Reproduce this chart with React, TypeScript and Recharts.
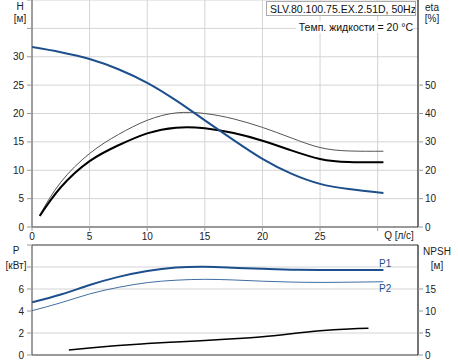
import React from "react";
import { LineChart, Line, XAxis, YAxis, CartesianGrid, ReferenceLine } from "recharts";

// axis ticks
const qTicks = [0, 5, 10, 15, 20, 25, 30];
const hTicks = [0, 5, 10, 15, 20, 25, 30, 35, 40];
const etaTicks = [0, 10, 20, 30, 40, 50];
const pTicks = [0, 2, 4, 6, 8, 10];
const npshTicks = [0, 5, 10, 15];

// H curve [м]
const qHead = [0, 2.5, 5, 7.5, 10, 12.5, 15, 17.5, 20, 22.5, 25, 27.5, 30.5];
const head = [31.7, 30.8, 29.6, 27.8, 25.4, 22.3, 18.8, 15.3, 12.0, 9.4, 7.6, 6.7, 6.0];

// efficiency curves [%]
const qEta = [0.67, 2.5, 5, 7.5, 10, 12.5, 15, 17.5, 20, 22.5, 25, 27.5, 30.5];
const etaTotal = [3.9, 14, 23.2, 28.8, 33, 35, 34.8, 33.1, 30.4, 27.0, 24.0, 22.9, 22.8];
const etaHydr = [4.2, 15.8, 25.9, 32.6, 37.6, 40.2, 40.0, 38.1, 35.1, 31.4, 28.0, 26.8, 26.7];

// power [кВт]
const qPower = [0, 2.5, 5, 7.5, 10, 12.5, 15, 17.5, 20, 22.5, 25, 27.5, 30.5];
const p1 = [4.79, 5.5, 6.36, 7.1, 7.64, 7.95, 8.03, 7.93, 7.83, 7.76, 7.73, 7.73, 7.73];
const p2 = [4.03, 4.75, 5.55, 6.15, 6.58, 6.8, 6.88, 6.82, 6.71, 6.63, 6.6, 6.62, 6.66];

// NPSH [м]
const qNpsh = [3.2, 5, 7.5, 10, 12.5, 15, 17.5, 20, 22.5, 25, 27.5, 29.2];
const npsh = [1.14, 1.6, 2.15, 2.6, 2.95, 3.3, 3.7, 4.17, 4.85, 5.5, 5.9, 6.06];

const pts = (q: number[], v: number[]) => q.map((x, i) => ({ q: x, v: v[i] }));

const BLUE = "#1d4f8c";
const GRID = "#d4d4d4";
const FONT = "'Liberation Sans', Arial, sans-serif";
const tick = { fontSize: 10, fill: "#222", fontFamily: FONT };

function Txt({ x, y, children, color = "#222", anchor = "center" }: any) {
  const tx = anchor === "center" ? "-50%" : anchor === "right" ? "-100%" : "0";
  return (
    <div
      style={{
        position: "absolute",
        left: x,
        top: y,
        transform: `translate(${tx}, -50%)`,
        fontSize: 10,
        color,
        whiteSpace: "nowrap",
        lineHeight: 1,
      }}
    >
      {children}
    </div>
  );
}

export default function App() {
  return (
    <div
      style={{
        position: "absolute",
        left: 0,
        top: 0,
        width: 458,
        height: 363,
        background: "#fff",
        fontFamily: FONT,
        overflow: "hidden",
      }}
    >
      <div style={{ position: "absolute", left: 0, top: 0 }}>
        <LineChart width={458} height={242} margin={{ top: 0, right: 0, bottom: 0, left: 0 }}>
          <CartesianGrid stroke={GRID} xAxisId="q" yAxisId="h" />
          <XAxis
            xAxisId="q"
            type="number"
            dataKey="q"
            domain={[0, 33.5]}
            ticks={qTicks}
            allowDataOverflow
            height={15}
            tick={tick}
            tickSize={4}
            tickMargin={2}
            tickFormatter={(v) => (v === 30 ? "" : String(v))}
            axisLine={{ stroke: "#999", strokeWidth: 2 }}
            tickLine={{ stroke: "#999" }}
          />
          <YAxis
            yAxisId="h"
            domain={[0, 40]}
            ticks={hTicks}
            width={32}
            tick={tick}
            tickSize={5}
            tickMargin={3}
            tickFormatter={(v) => (v > 30 ? "" : String(v))}
            axisLine={{ stroke: "#555" }}
            tickLine={{ stroke: "#999" }}
          />
          <YAxis
            yAxisId="eta"
            orientation="right"
            domain={[0, 80]}
            ticks={etaTicks}
            width={40}
            tick={tick}
            tickSize={5}
            tickMargin={2}
            axisLine={{ stroke: "#000" }}
            tickLine={{ stroke: "#999" }}
          />
          <Line data={pts(qEta, etaHydr)} dataKey="v" xAxisId="q" yAxisId="eta" type="natural"
            stroke="#555" strokeWidth={1} dot={false} isAnimationActive={false} />
          <Line data={pts(qEta, etaTotal)} dataKey="v" xAxisId="q" yAxisId="eta" type="natural"
            stroke="#000" strokeWidth={2} dot={false} isAnimationActive={false} />
          <Line data={pts(qHead, head)} dataKey="v" xAxisId="q" yAxisId="h" type="natural"
            stroke={BLUE} strokeWidth={2} dot={false} isAnimationActive={false} />
        </LineChart>
      </div>

      <div style={{ position: "absolute", left: 0, top: 240 }}>
        <LineChart width={458} height={123} margin={{ top: 5, right: 0, bottom: 0, left: 0 }}>
          <CartesianGrid stroke={GRID} xAxisId="q" yAxisId="p" />
          <XAxis
            xAxisId="q"
            type="number"
            dataKey="q"
            domain={[0, 33.5]}
            ticks={qTicks}
            allowDataOverflow
            height={8}
            tick={false}
            tickLine={false}
            axisLine={{ stroke: "#999", strokeWidth: 2 }}
          />
          <YAxis
            yAxisId="p"
            domain={[0, 10]}
            ticks={pTicks}
            width={32}
            tick={tick}
            tickSize={5}
            tickMargin={3}
            tickFormatter={(v) => (v > 6 ? "" : String(v))}
            axisLine={{ stroke: "#555" }}
            tickLine={{ stroke: "#999" }}
          />
          <YAxis
            yAxisId="npsh"
            orientation="right"
            domain={[0, 25]}
            ticks={npshTicks}
            width={40}
            tick={tick}
            tickSize={5}
            tickMargin={2}
            axisLine={{ stroke: "#000" }}
            tickLine={{ stroke: "#999" }}
          />
          <ReferenceLine y={10} xAxisId="q" yAxisId="p" stroke="#999" strokeWidth={2} />
          <Line data={pts(qPower, p2)} dataKey="v" xAxisId="q" yAxisId="p" type="natural"
            stroke="#3f6ea3" strokeWidth={1} dot={false} isAnimationActive={false} />
          <Line data={pts(qPower, p1)} dataKey="v" xAxisId="q" yAxisId="p" type="natural"
            stroke={BLUE} strokeWidth={2} dot={false} isAnimationActive={false} />
          <Line data={pts(qNpsh, npsh)} dataKey="v" xAxisId="q" yAxisId="npsh" type="natural"
            stroke="#000" strokeWidth={1.5} dot={false} isAnimationActive={false} />
        </LineChart>
      </div>

      <Txt x={20} y={7}>H</Txt>
      <Txt x={20} y={19}>[м]</Txt>
      <Txt x={432} y={8}>eta</Txt>
      <Txt x={432} y={19}>[%]</Txt>
      <Txt x={399} y={236}>Q [л/с]</Txt>
      <Txt x={16} y={251}>P</Txt>
      <Txt x={16} y={266}>[кВт]</Txt>
      <Txt x={437} y={252}>NPSH</Txt>
      <Txt x={437} y={266}>[м]</Txt>
      <Txt x={379} y={264} color={BLUE} anchor="left">P1</Txt>
      <Txt x={379} y={289} color={BLUE} anchor="left">P2</Txt>

      <div
        style={{
          position: "absolute",
          left: 266,
          top: 1,
          width: 150,
          height: 15,
          border: "1px solid #aaa",
          background: "#fff",
          fontSize: 10.5,
          lineHeight: "15px",
          paddingLeft: 3,
          boxSizing: "border-box",
          whiteSpace: "nowrap",
          overflow: "hidden",
          color: "#111",
        }}
      >
        SLV.80.100.75.EX.2.51D, 50Hz
      </div>
      <div
        style={{
          position: "absolute",
          left: 296,
          top: 21,
          width: 117,
          height: 12,
          background: "#fff",
          fontSize: 10.5,
          lineHeight: "12px",
          textAlign: "right",
          whiteSpace: "nowrap",
          color: "#111",
        }}
      >
        Темп. жидкости = 20 °C
      </div>
    </div>
  );
}
